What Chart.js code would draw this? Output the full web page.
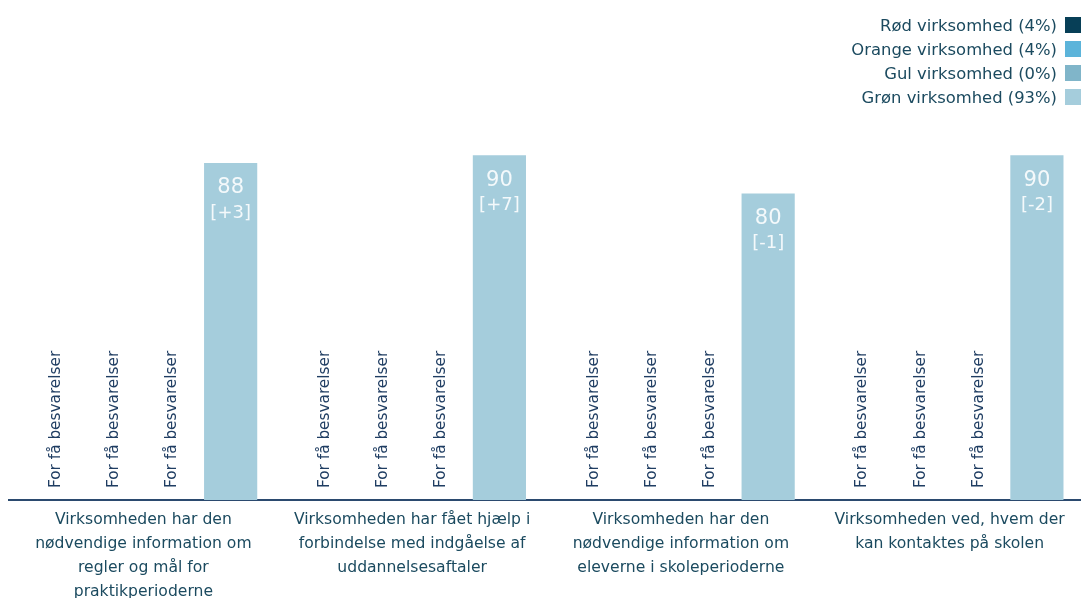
<!DOCTYPE html>
<html>
<head>
<meta charset="utf-8">
<script src="https://cdn.jsdelivr.net/npm/chart.js@4"></script>
<style>
  html, body { margin:0; padding:0; background:#fff; overflow:hidden; }
  #wrap { position:relative; width:1081px; height:598px; overflow:hidden; }
  #legend { position:absolute; right:0; top:13px; font-family:"DejaVu Sans", sans-serif; font-size:16.4px; color:#1b4a5f; }
  #legend .row { display:flex; justify-content:flex-end; align-items:center; height:24px; }
  #legend .box { width:16px; height:16px; margin-left:8px; }
</style>
</head>
<body>
<div id="wrap">
  <canvas id="chart" width="1084" height="598"></canvas>
  <div id="legend"></div>
</div>
<script>
// kategorier (flere linjer pr. label)
const categories = [
  ["Virksomheden har den", "nødvendige information om", "regler og mål for", "praktikperioderne"],
  ["Virksomheden har fået hjælp i", "forbindelse med indgåelse af", "uddannelsesaftaler"],
  ["Virksomheden har den", "nødvendige information om", "eleverne i skoleperioderne"],
  ["Virksomheden ved, hvem der", "kan kontaktes på skolen"]
];
const seriesNames = ["Rød virksomhed (4%)", "Orange virksomhed (4%)", "Gul virksomhed (0%)", "Grøn virksomhed (93%)"];
const seriesColors = ["#073f57", "#5cb4da", "#80b5c9", "#a5cddc"];
const redValues = [null, null, null, null];
const orangeValues = [null, null, null, null];
const yellowValues = [null, null, null, null];
const greenValues = [88, 90, 80, 90];
const greenChanges = ["[+3]", "[+7]", "[-1]", "[-2]"];
const tooFewText = "For få besvarelser";

const FONT = '"DejaVu Sans", sans-serif';

// HTML-legende
const legendEl = document.getElementById('legend');
seriesNames.forEach((name, i) => {
  const row = document.createElement('div');
  row.className = 'row';
  row.innerHTML = `<span>${name}</span><span class="box" style="background:${seriesColors[i]}"></span>`;
  legendEl.appendChild(row);
});

// tekst på søjlerne
const barTextPlugin = {
  id: 'barText',
  afterDatasetsDraw(chart) {
    const ctx = chart.ctx;
    const bottom = chart.chartArea.bottom;
    chart.data.datasets.forEach((ds, di) => {
      const meta = chart.getDatasetMeta(di);
      meta.data.forEach((bar, j) => {
        const v = ds.data[j];
        ctx.save();
        if (v === null || v === undefined) {
          ctx.translate(bar.x, bottom - 12);
          ctx.rotate(-Math.PI / 2);
          ctx.font = '15.3px ' + FONT;
          ctx.fillStyle = '#1f3d62';
          ctx.textAlign = 'left';
          ctx.textBaseline = 'middle';
          ctx.fillText(tooFewText, 0, 0);
        } else {
          ctx.fillStyle = '#f4f9fb';
          ctx.textAlign = 'center';
          ctx.textBaseline = 'middle';
          ctx.font = '21px ' + FONT;
          ctx.fillText(String(v), bar.x, bar.y + 25);
          ctx.font = '18px ' + FONT;
          ctx.fillText(ds.changes ? ds.changes[j] : '', bar.x, bar.y + 50);
        }
        ctx.restore();
      });
    });
  }
};

const valueSets = [redValues, orangeValues, yellowValues, greenValues];

new Chart(document.getElementById('chart'), {
  type: 'bar',
  data: {
    labels: categories,
    datasets: valueSets.map((vals, i) => ({
      label: seriesNames[i],
      data: vals,
      backgroundColor: seriesColors[i],
      borderWidth: 0,
      changes: i === 3 ? greenChanges : null,
      categoryPercentage: 0.866,
      barPercentage: 0.914
    }))
  },
  options: {
    responsive: false,
    animation: false,
    layout: { padding: { top: 117, left: 9, right: 0, bottom: 0 } },
    plugins: { legend: { display: false }, tooltip: { enabled: false } },
    scales: {
      x: {
        grid: { display: false, drawTicks: false },
        border: { display: true, color: '#2b4a6f', width: 2 },
        ticks: {
          padding: 8,
          maxRotation: 0,
          autoSkip: false,
          color: '#1b4a5f',
          font: { family: FONT, size: 15.6, lineHeight: 1.54 }
        },
        afterFit(scale) { scale.height = 98; }
      },
      y: {
        display: false,
        min: 0,
        max: 100
      }
    }
  },
  plugins: [barTextPlugin]
});
</script>
</body>
</html>
